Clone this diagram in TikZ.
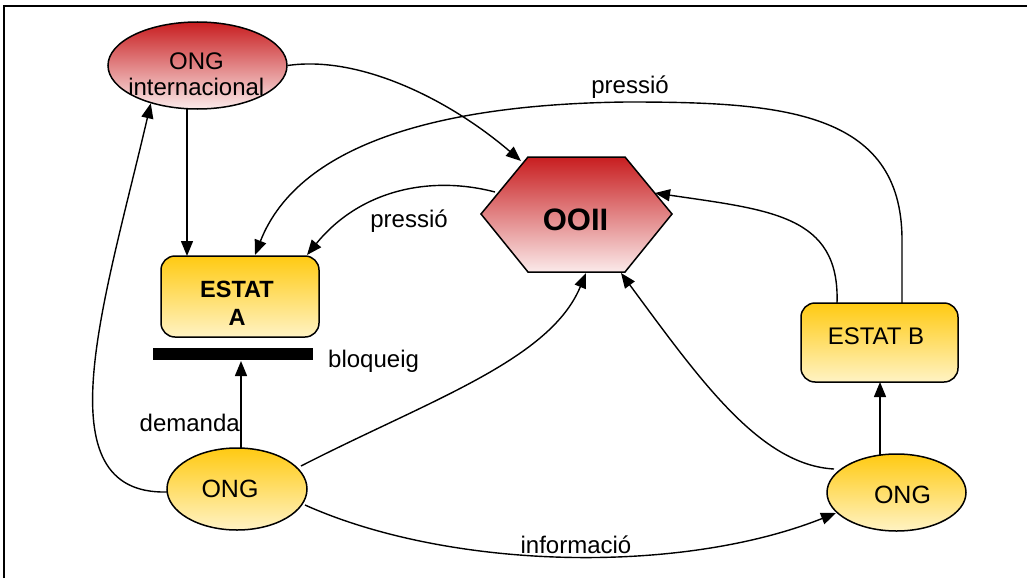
\documentclass[tikz,border=0pt]{standalone}
\usepackage{fontspec}
\setmainfont{Liberation Sans}
\usetikzlibrary{arrows.meta,shapes.geometric}

\definecolor{redtop}{RGB}{200,30,32}
\definecolor{redbot}{RGB}{251,234,234}
\definecolor{yeltop}{RGB}{255,202,18}
\definecolor{yelbot}{RGB}{255,243,196}

\begin{document}
\begin{tikzpicture}[x=1pt,y=-1pt,
  lbl/.style={font=\fontsize{24}{27}\selectfont, inner sep=0pt, anchor=base},
  boldlbl/.style={lbl, font=\fontsize{23.5}{27}\selectfont\bfseries},
  redfill/.style={top color=redtop, bottom color=redbot},
  yelfill/.style={top color=yeltop, bottom color=yelbot},
  oval/.style={ellipse, draw, line width=1.5pt, inner sep=0pt},
  statebox/.style={rectangle, rounded corners=14pt, draw, line width=1.5pt, inner sep=0pt, yelfill},
  conn/.style={line width=1.4pt, -{Triangle[length=15pt,width=12pt]}},
  plain/.style={line width=1.4pt}
]
\useasboundingbox (0,0) rectangle (1027,578);

% frame
\draw[line width=2pt] (4,578) -- (4,6) -- (1027,6);

% international NGO
\node[oval, redfill, minimum width=179pt, minimum height=87pt] (ongi) at (197.5,65.5) {};
\node[lbl] (ongi-t1) at (196.5,70) {ONG};
\node[lbl] (ongi-t2) at (196.3,95) {internacional};

% international organisations (hexagon)
\draw[line width=1.5pt, redfill] (481,214) -- (528,157) -- (625,157) -- (672,214) -- (625,272) -- (528,272) -- cycle;
\node[lbl, font=\fontsize{31}{34}\selectfont\bfseries] (ooii) at (575.5,230) {OOII};

% state A and its blockade
\node[statebox, minimum width=158pt, minimum height=81pt] (estA) at (240,296.5) {};
\node[boldlbl] (estA-t1) at (237,297) {ESTAT};
\node[boldlbl] (estA-t2) at (237,325) {A};
\node[fill=black, minimum width=160pt, minimum height=12pt, inner sep=0pt] (bar) at (233,354) {};
\node[lbl, anchor=base west] (bloq) at (328,367) {bloqueig};

% state B
\node[statebox, minimum width=157pt, minimum height=79pt] (estB) at (879.5,342.5) {};
\node[lbl] (estB-t) at (876,344) {ESTAT B};

% local NGOs
\node[oval, yelfill, minimum width=140pt, minimum height=82pt] (ongl) at (237,489) {};
\node[lbl, font=\fontsize{25}{28}\selectfont] (ongl-t) at (230,497) {ONG};
\node[oval, yelfill, minimum width=139pt, minimum height=77pt] (ongr) at (896.5,492.5) {};
\node[lbl, font=\fontsize{25}{28}\selectfont] (ongr-t) at (902.5,503) {ONG};

% attachment points on the shapes
\coordinate (ongi-s) at (187,109);
\coordinate (estA-n1) at (187,256);
\coordinate (estA-n2) at (255,255);
\coordinate (estA-n3) at (307,255);
\coordinate (bar-s) at (241,361);
\coordinate (ongl-n) at (241,448);
\coordinate (ongl-w) at (167,492);
\coordinate (ongl-ne) at (301,466);
\coordinate (ongl-e) at (305,505);
\coordinate (ongr-n) at (880,455);
\coordinate (ongr-nw) at (834,469);
\coordinate (ongr-w) at (836,513);
\coordinate (estB-s) at (880,382);
\coordinate (estB-n1) at (837,303);
\coordinate (estB-n2) at (902,303);
\coordinate (hex-nw) at (521,161);
\coordinate (hex-w) at (495,192);
\coordinate (hex-ne) at (655,193);
\coordinate (hex-s1) at (586,273);
\coordinate (hex-s2) at (621,273);

% connectors
\draw[conn] (ongi.east) .. controls (360,55) and (450,100) .. (hex-nw);
\draw[conn] (ongi-s) -- (estA-n1);
\draw[conn] (ongl-w) .. controls (40,495) and (105,300) .. (ongi.219);
\draw[conn] (ongl-n) -- (bar-s);
\node[lbl, anchor=base east] (dem) at (240,431) {demanda};
\draw[conn] (ongl-ne) .. controls (430,400) and (550,360) .. (hex-s1);
\draw[conn] (ongr-nw) .. controls (760,465) and (700,380) .. (hex-s2);
\draw[conn] (ongr-n) -- (estB-s);
\draw[conn] (ongl-e) .. controls (450,570) and (680,575) .. (ongr-w);
\node[lbl] (info) at (576,553) {informació};
\draw[conn] (estB-n1) .. controls (840,215) and (770,210) .. (hex-ne);
\draw[conn] (estB-n2) -- (902,240) .. controls (902,110) and (780,102) .. (627,102)
  .. controls (450,104) and (300,140) .. (estA-n2);
\node[lbl] (press1) at (630,93) {pressió};
\draw[conn] (hex-w) .. controls (430,175) and (360,190) .. (estA-n3);
\node[lbl] (press2) at (409,227) {pressió};
\end{tikzpicture}
\end{document}
